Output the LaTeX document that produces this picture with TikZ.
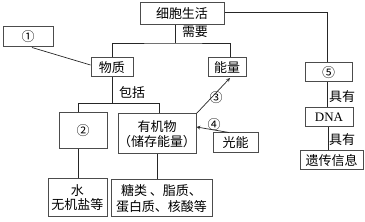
\documentclass[tikz,border=0pt]{standalone}
\usepackage{fontspec}
\setmainfont{Liberation Serif}
\newfontfamily\cjk{Noto Sans CJK SC}
\begin{document}
\begin{tikzpicture}[x=1pt,y=-1pt,
  box/.style={draw=black!70,line width=1pt,inner sep=0pt,font=\cjk\fontsize{13}{15}\selectfont,align=center},
  conn/.style={draw=black!85,line width=0.7pt},
  lbl/.style={inner sep=0pt,font=\cjk\fontsize{13}{15}\selectfont}]
\useasboundingbox (0,0) rectangle (365,222);
\node[box,minimum width=84pt,minimum height=22pt] (top) at (182,14) {细胞生活};
\node[box,minimum width=50pt,minimum height=20pt] (n1) at (28,37) {①};
\node[box,minimum width=42pt,minimum height=19pt] (wz) at (112,67.5) {物质};
\node[box,minimum width=38pt,minimum height=19pt] (nl) at (227,67.5) {能量};
\node[box,minimum width=47pt,minimum height=19pt] (n5) at (328.5,72.5) {⑤};
\node[box,minimum width=48pt,minimum height=36pt] (n2) at (83,131) {②};
\node[box,minimum width=76pt,minimum height=40pt] (yjw) at (157,134) {有机物\\（储存能量）};
\node[box,minimum width=45pt,minimum height=20pt] (gn) at (235.5,143) {光能};
\node[box,minimum width=48pt,minimum height=19pt,font=\fontsize{13}{15}\selectfont] (dna) at (329,117.5) {DNA};
\node[box,minimum width=63pt,minimum height=19pt] (yc) at (331.5,160.5) {遗传信息};
\node[box,minimum width=59pt,minimum height=38pt,font=\cjk\fontsize{13}{14}\selectfont] (sw) at (77.5,198) {水\\无机盐等};
\node[box,minimum width=101pt,minimum height=37pt,font=\cjk\fontsize{13}{16}\selectfont] (tl) at (161.5,198.5) {糖类\ 、脂质、\\蛋白质、核酸等};
% labels
\node[lbl] (xy) at (195,32) {需要};
\node[lbl] (bk) at (132,93) {包括};
\node[lbl] (j1) at (342,97) {具有};
\node[lbl] (j2) at (342,140) {具有};
\node[lbl] (l3) at (216,98) {③};
\node[lbl] (l4) at (214,125) {④};
% connectors
\coordinate (t1) at (175,43);
\draw[conn] (top.south -| t1) -- (t1);
\draw[conn] (wz.north) -- (wz.north |- t1) -- (t1) -- (230,43) coordinate (t2) -- (t2 |- nl.north);
\draw[conn] (top.east |- 0,12) -- (327,12) -- (327,0 |- n5.north);
\draw[conn] (n1.south -| 32,0) -- (wz.west |- 0,65);
\coordinate (b1) at (112,103);
\draw[conn] (wz.south) -- (b1);
\draw[conn] (78,0 |- n2.north) -- (78,103) -- (159,103) -- (159,0 |- yjw.north);
\draw[conn] (78,0 |- n2.south) -- (78,0 |- sw.north);
\draw[conn] (yjw.south) -- (tl.north -| yjw.south);
\draw[conn] (n5.south -| 327,0) -- (dna.north -| 327,0);
\draw[conn] (dna.south -| 328,0) -- (yc.north -| 328,0);
\draw[conn,-stealth] (yjw.north east) -- (230,78);
\draw[conn,-stealth] (229,0 |- gn.north) -- (yjw.east |- 0,127);
\end{tikzpicture}
\end{document}
